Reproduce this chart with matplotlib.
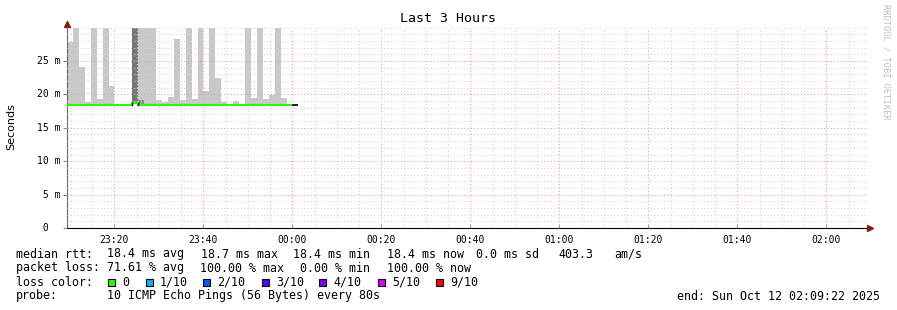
import matplotlib
matplotlib.use("Agg")
import matplotlib.pyplot as plt
import matplotlib.dates as mdates
import matplotlib.transforms as mtransforms
from datetime import datetime, timedelta

plt.rcParams['font.family'] = ['DejaVu Sans Mono']

# --- data (ms), one value per 80 s step ---
start = datetime(2025, 10, 11, 23, 9, 22)
end = start + timedelta(hours=3)
step_s = 80

# top of the smoke for each step (None = no smoke)
smoke_hi = [27.8, 30, 24.1, 18.85, 30, 19.25, 30, 21.2, None, None, None,
            None, 30, 30, 30, 19.1, 18.8, 19.55, 28.35, 19.1, 30, 19.25,
            30, 20.5, 30, 22.5, 18.8, None, 19.0, None, 30, 19.4, 30,
            19.25, 19.9, 30, 19.4, None]
median = [18.4] * 11 + [18.75] + [18.4] * 26
last_median = 18.4          # the "now" step, drawn dark

dark_idx, dark_lo, dark_hi = [11], [18.8], [30]
mid_idx, mid_lo, mid_hi = [12], [18.6], [19.1]

yticks = [0, 5, 10, 15, 20, 25]

loss_labels = ['0', '1/10', '2/10', '3/10', '4/10', '5/10', '9/10']
loss_colors = ['#26ff00', '#00b8ff', '#0059ff', '#5e00ff', '#7e00ff', '#dd00ff', '#ff0000']

W, H = 897, 310
fig = plt.figure(figsize=(W / 100, H / 100), dpi=100)
fig.patch.set_facecolor('white')
ax = fig.add_axes([67 / W, 1 - 228 / H, (868 - 67) / W, (228 - 27.6) / H])

t = [start + timedelta(seconds=step_s * i) for i in range(len(median) + 1)]
wd = step_s / 86400.0

# smoke
for i, hi in enumerate(smoke_hi):
    if hi is None:
        continue
    ax.bar(mdates.date2num(t[i]), hi - median[i], bottom=median[i], width=wd,
           align='edge', color='#c8c8c8', linewidth=0, zorder=1)
for i, lo, hi in zip(dark_idx, dark_lo, dark_hi):
    ax.bar(mdates.date2num(t[i]), hi - lo, bottom=lo, width=wd, align='edge',
           color='#777777', linewidth=0, zorder=1.1)
for i, lo, hi in zip(mid_idx, mid_lo, mid_hi):
    ax.bar(mdates.date2num(t[i]), hi - lo, bottom=lo, width=wd, align='edge',
           color='#8c8c8c', linewidth=0, zorder=1.1)

# median line
xs, ys = [], []
for i, m in enumerate(median):
    xs += [t[i], t[i + 1]]
    ys += [m, m]
ax.plot(xs, ys, color='#26ff00', lw=1.5, solid_capstyle='butt', zorder=3)
for i in range(1, len(median)):
    if median[i] != median[i - 1]:
        ax.plot([t[i], t[i]], [median[i - 1], median[i]], color='black', lw=1, zorder=3.1)
ax.plot([t[-1], t[-1] + timedelta(seconds=step_s)], [last_median, last_median],
        color='#222222', lw=1.5, solid_capstyle='butt', zorder=3)

ax.set_xlim(start, end)
ax.set_ylim(0, 30)

# grid
ax.xaxis.set_major_locator(mdates.MinuteLocator(byminute=[0, 20, 40]))
ax.xaxis.set_minor_locator(mdates.MinuteLocator(byminute=range(0, 60, 5)))
ax.xaxis.set_major_formatter(mdates.DateFormatter('%H:%M'))
ax.set_yticks(yticks)
ax.set_yticks(range(0, 31), minor=True)
ax.set_yticklabels([])
ax.grid(which='minor', color='#d4d4d4', linestyle=(0, (1, 2)), lw=0.8, zorder=2)
ax.grid(which='major', color='#eaa0a0', linestyle=(0, (1, 2)), lw=0.8, zorder=2.1)
ax.set_axisbelow(False)

ax.tick_params(axis='x', which='major', length=2, direction='in', pad=5,
               labelsize=7, colors='#888888', labelcolor='black')
ax.tick_params(axis='x', which='minor', length=0)
ax.tick_params(axis='y', which='major', length=3, direction='out', colors='#888888')
ax.tick_params(axis='y', which='minor', length=0)

for s in ['top', 'right']:
    ax.spines[s].set_visible(False)
ax.spines['left'].set_color('#666666')
ax.spines['bottom'].set_color('black')

# y tick labels, left aligned in monospace like rrdtool
tr = mtransforms.blended_transform_factory(fig.transFigure, ax.transData)
for v in yticks:
    lab = ' 0' if v == 0 else '%2d m' % v
    ax.text(37 / W, v, lab, transform=tr, ha='left', va='center', fontsize=7, color='black')

# axis arrows
arr = '#8b1a1a'
ax.plot([1], [0], marker='>', ms=4, color=arr, transform=mtransforms.offset_copy(
    ax.transAxes, fig, x=2, y=0, units='dots'), clip_on=False, zorder=5)
ax.plot([0], [1], marker='^', ms=4, color=arr, transform=mtransforms.offset_copy(
    ax.transAxes, fig, x=0, y=4, units='dots'), clip_on=False, zorder=5)

# titles
fig.text(448 / W, 1 - 19 / H, 'Last 3 Hours', ha='center', va='center', fontsize=9.5)
fig.text(11 / W, 1 - 127 / H, 'Seconds', rotation=90, ha='center', va='center', fontsize=8,
         family='DejaVu Sans')
fig.text(886 / W, 1 - 4 / H, 'RRDTOOL / TOBI OETIKER', rotation=-90, ha='center', va='top',
         fontsize=6.2, color='#c0c0c0')

# legend
fs = 8.4
def row(y, parts):
    for x, s in parts:
        fig.text(x / W, 1 - y / H, s, ha='left', va='center', fontsize=fs)

row(254, [(16, 'median rtt:'), (107, '18.4 ms avg'), (201, '18.7 ms max'),
          (293, '18.4 ms min'), (387, '18.4 ms now'), (476, '0.0 ms sd'),
          (558, '403.3'), (614, 'am/s')])
row(268, [(16, 'packet loss:'), (107, '71.61 % avg'), (200, '100.00 % max'),
          (300, '0.00 % min'), (387, '100.00 % now')])
row(282, [(16, 'loss color:')])
row(296, [(16, 'probe:'), (107, '10 ICMP Echo Pings (56 Bytes) every 80s')])
fig.text(880 / W, 1 - 296 / H, 'end: Sun Oct 12 02:09:22 2025', ha='right', va='center', fontsize=fs)

sq_x = [108, 146, 203, 262, 319, 378, 436]
for x, lab, c in zip(sq_x, loss_labels, loss_colors):
    fig.add_artist(plt.Rectangle((x / W, 1 - 286 / H), 7 / W, 7 / H, facecolor=c,
                                 edgecolor='black', lw=0.8, transform=fig.transFigure))
    fig.text((x + 14) / W, 1 - 282 / H, lab, ha='left', va='center', fontsize=fs)

fig.savefig('out.png', dpi=100)
